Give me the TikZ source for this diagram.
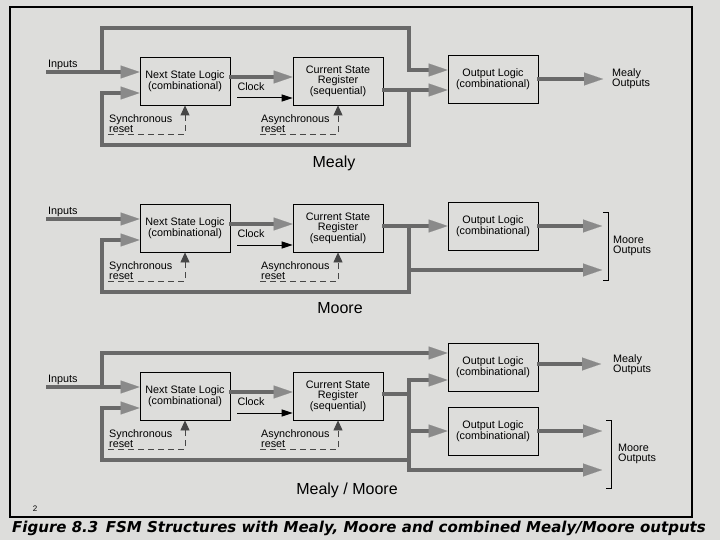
\documentclass[tikz,border=0pt]{standalone}
\usepackage{fontspec}
\setmainfont{Liberation Sans}
\newfontfamily\capfont{DejaVu Sans}
\usetikzlibrary{arrows.meta, positioning, calc}
\tikzset{every node/.append style={align=center}}
\definecolor{paper}{RGB}{221,221,219}
\definecolor{busgray}{RGB}{105,105,105}
\definecolor{headgray}{RGB}{138,138,138}
\definecolor{rstgray}{RGB}{70,70,70}

\begin{document}
\begin{tikzpicture}[x=1pt, y=-1pt,
  blk/.style={rectangle, draw, line width=0.8pt, minimum width=90pt,
              minimum height=48pt, inner sep=1pt,
              font=\fontsize{10.8}{10}\selectfont},
  lbl/.style={inner sep=1pt, font=\fontsize{10.8}{10}\selectfont, align=left},
  title/.style={inner sep=1pt, font=\fontsize{16}{16}\selectfont},
  bus/.style={draw=busgray, line width=3.5pt, line cap=rect},
  busarrow/.style={bus, -{Triangle[length=19pt, width=13pt, line width=0.1pt, color=headgray]}},
  clk/.style={draw=black, line width=1pt, -{Triangle[length=11pt, width=7pt]}},
  rst/.style={draw=rstgray, line width=0.8pt, dash pattern=on 6pt off 4pt,
              -{Triangle[length=10pt, width=9pt]}}
]

% Paper and frame
\useasboundingbox (0,0) rectangle (720,540);
\fill[paper] (0,0) rectangle (720,540);
\draw[line width=1.2pt] (10,7) rectangle (692,517);

% Next state logic, register, clock and resets (same in all three)
\foreach \s/\ypos in {a/81, b/228, c/396} {
  \node[blk] (ns\s) at (185,\ypos) {Next State Logic\\(combinational)};
  \node[blk] (cs\s) at (338,\ypos) {Current State\\Register\\(sequential)};
  \node[lbl, anchor=west] (in\s) at (47,\ypos-16) {Inputs};
  \coordinate (src\s) at (48,\ypos-9);
  \coordinate (tap\s) at (102,\ypos-9);
  \coordinate (fb\s) at (102,\ypos+64);
  \coordinate (br\s) at (409,\ypos+64);
  \coordinate (ck\s) at (237,\ypos+17);
  \coordinate (srs\s) at (108,\ypos+53);
  \coordinate (ars\s) at (260,\ypos+53);
  \draw[busarrow] (src\s) -- (src\s -| ns\s.west);
  \draw[busarrow] ([yshift=4pt]ns\s.east) -- ([yshift=4pt]cs\s.west);
  \draw[busarrow] (br\s) -- (fb\s) |- ([yshift=-12pt]ns\s.west);
  \draw[clk] (ck\s) -- (ck\s -| cs\s.west);
  \node[lbl] (clk\s) at (251,\ypos+6) {Clock};
  \node[lbl, anchor=west] (sr\s) at (108,\ypos+43) {Synchronous\\reset};
  \node[lbl, anchor=west] (ar\s) at (260,\ypos+43) {Asynchronous\\reset};
  \draw[rst] (srs\s) -| (ns\s.south);
  \draw[rst] (ars\s) -| (cs\s.south);
}

% Mealy
\node[blk] (ola) at (493,79) {Output Logic\\(combinational)};
\coordinate (topa) at (409,28);
\coordinate (jca) at (409,90);
\coordinate (outa) at (603,79);
\draw[busarrow] (tapa) |- (topa) |- ([yshift=9pt]ola.west);
\draw[busarrow] ([yshift=-9pt]csa.east) -- ([yshift=-9pt]csa.east -| ola.west);
\draw[bus] (jca) -- (bra);
\draw[busarrow] (ola.east) -- (outa);
\node[lbl, anchor=west] (mla) at (611,79) {Mealy\\Outputs};
\node[title] (mealy) at (334,163) {Mealy};

% Moore
\node[blk] (olb) at (493,226) {Output Logic\\(combinational)};
\coordinate (jcb) at (409,226);
\coordinate (mob) at (409,270);
\coordinate (bkb) at (602,212);
\draw[busarrow] ([yshift=2pt]csb.east) -- ([yshift=2pt]csb.east -| olb.west);
\draw[bus] (jcb) -- (brb);
\draw[busarrow] (olb.east) -- (olb.east -| bkb);
\draw[busarrow] (mob) -- (mob -| bkb);
\draw[line width=0.9pt] ([xshift=1pt]bkb) -- ++(5,0) -- ++(0,68) -- ++(-5,0);
\node[lbl, anchor=west] (mob2) at (612,246) {Moore\\Outputs};
\node[title] (moore) at (340,308) {Moore};

% Mealy / Moore
\node[blk] (olc1) at (493,367) {Output Logic\\(combinational)};
\node[blk] (olc2) at (493,431) {Output Logic\\(combinational)};
\coordinate (jcc) at (409,394);
\coordinate (vtc) at (409,380);
\coordinate (vbc) at (409,470);
\coordinate (outc) at (601,364);
\coordinate (bkc) at (602,420);
\draw[busarrow] (tapc) |- ([yshift=14pt]olc1.west);
\draw[bus] ([yshift=2pt]csc.east) -- (jcc);
\draw[bus] (vtc) -- (vbc);
\draw[busarrow] (vtc) -- (vtc -| olc1.west);
\draw[busarrow] (olc2.west -| vtc) -- (olc2.west);
\draw[busarrow] (vbc) -- (vbc -| bkc);
\draw[busarrow] ([yshift=3pt]olc1.east) -- (outc);
\draw[busarrow] (olc2.east) -- (olc2.east -| bkc);
\draw[line width=0.9pt] ([xshift=4pt]bkc) -- ++(5,0) -- ++(0,68) -- ++(-5,0);
\node[lbl, anchor=west] (mlc) at (612,365) {Mealy\\Outputs};
\node[lbl, anchor=west] (moc) at (617,454) {Moore\\Outputs};
\node[title] (mm) at (347,490) {Mealy / Moore};

% Page number and caption
\node[font=\fontsize{8}{8}\selectfont] (pg) at (35,509) {2};
\node[font={\capfont\bfseries\itshape\fontsize{15}{16}\selectfont}] (cap) at (359,528)
  {Figure 8.3\enspace FSM Structures with Mealy, Moore and combined Mealy/Moore outputs};

\end{tikzpicture}
\end{document}
